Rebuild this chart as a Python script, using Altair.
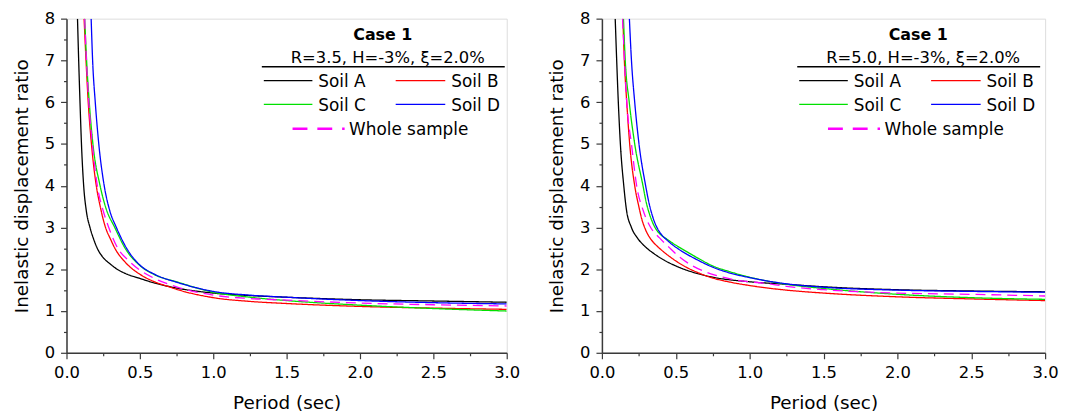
import altair as alt
import pandas as pd

SERIES = ["Soil A", "Soil B", "Soil C", "Soil D", "Whole sample"]
COLORS = ["#000000", "#ff0000", "#00e000", "#0000ff", "#ff00ff"]
X_TICKS = [i * 0.25 for i in range(13)]
Y_TICKS = [i * 0.5 for i in range(17)]

# ---------------- Left panel: R=3.5 ----------------
L_A_T = [0.075, 0.083, 0.092, 0.102, 0.117, 0.135, 0.16, 0.185, 0.21, 0.25, 0.3, 0.345, 0.4, 0.5, 0.6, 0.75, 1.0, 1.25, 1.5, 2.0, 2.5, 3.0]
L_A_V = [8.0, 7.0, 6.0, 5.0, 4.0, 3.4, 3.0, 2.72, 2.5, 2.28, 2.12, 2.0, 1.9, 1.78, 1.67, 1.55, 1.43, 1.37, 1.33, 1.27, 1.24, 1.21]
L_B_T = [0.12, 0.133, 0.148, 0.17, 0.203, 0.23, 0.266, 0.3, 0.33, 0.4, 0.5, 0.6, 0.69, 0.75, 1.0, 1.25, 1.5, 2.0, 2.5, 3.0]
L_B_V = [8.0, 7.0, 6.0, 5.0, 4.0, 3.5, 3.0, 2.72, 2.5, 2.17, 1.88, 1.7, 1.59, 1.52, 1.32, 1.23, 1.18, 1.11, 1.07, 1.04]
L_C_T = [0.124, 0.137, 0.155, 0.18, 0.229, 0.27, 0.329, 0.4, 0.5, 0.6, 0.75, 1.0, 1.25, 1.5, 2.0, 2.5, 3.0]
L_C_V = [8.0, 7.0, 6.0, 5.0, 4.0, 3.45, 3.0, 2.5, 2.09, 1.87, 1.7, 1.45, 1.33, 1.25, 1.14, 1.06, 1.0]
L_D_T = [0.168, 0.178, 0.196, 0.22, 0.257, 0.295, 0.34, 0.41, 0.5, 0.6, 0.75, 0.87, 1.0, 1.25, 1.5, 2.0, 2.5, 3.0]
L_D_V = [8.0, 7.0, 6.0, 5.0, 4.0, 3.4, 3.0, 2.5, 2.1, 1.88, 1.69, 1.57, 1.47, 1.38, 1.33, 1.25, 1.2, 1.17]
L_W_T = [0.124, 0.136, 0.152, 0.176, 0.21, 0.25, 0.288, 0.35, 0.42, 0.5, 0.6, 0.75, 1.0, 1.25, 1.5, 2.0, 2.5, 3.0]
L_W_V = [8.0, 7.0, 6.0, 5.0, 4.0, 3.4, 3.0, 2.5, 2.22, 1.98, 1.78, 1.58, 1.38, 1.30, 1.26, 1.19, 1.15, 1.12]

# ---------------- Right panel: R=5.0 ----------------
R_A_T = [0.09, 0.1, 0.111, 0.125, 0.148, 0.165, 0.2, 0.24, 0.29, 0.35, 0.42, 0.5, 0.643, 0.75, 1.0, 1.25, 1.5, 2.0, 2.5, 3.0]
R_A_V = [8.0, 7.0, 6.0, 5.0, 4.0, 3.45, 3.0, 2.75, 2.55, 2.38, 2.22, 2.08, 1.9, 1.81, 1.7, 1.64, 1.58, 1.51, 1.48, 1.46]
R_B_T = [0.142, 0.152, 0.168, 0.188, 0.222, 0.25, 0.27, 0.295, 0.325, 0.36, 0.4, 0.46, 0.5, 0.57, 0.643, 0.75, 0.87, 1.0, 1.25, 1.5, 2.0, 2.5, 3.0]
R_B_V = [8.0, 7.0, 6.0, 5.0, 4.0, 3.5, 3.2, 2.95, 2.75, 2.6, 2.47, 2.3, 2.2, 2.05, 1.93, 1.79, 1.69, 1.61, 1.5, 1.43, 1.34, 1.29, 1.25]
R_C_T = [0.146, 0.158, 0.185, 0.222, 0.278, 0.3, 0.324, 0.348, 0.372, 0.4, 0.44, 0.49, 0.56, 0.643, 0.75, 0.867, 1.0, 1.25, 1.5, 2.0, 2.5, 3.0]
R_C_V = [8.0, 7.0, 6.0, 5.0, 4.0, 3.6, 3.3, 3.08, 2.93, 2.82, 2.72, 2.6, 2.45, 2.28, 2.08, 1.94, 1.81, 1.64, 1.54, 1.40, 1.32, 1.28]
R_D_T = [0.186, 0.2, 0.222, 0.251, 0.296, 0.318, 0.34, 0.362, 0.385, 0.41, 0.44, 0.48, 0.52, 0.643, 0.75, 0.867, 1.0, 1.25, 1.5, 2.0, 2.5, 3.0]
R_D_V = [8.0, 7.0, 6.0, 5.0, 4.0, 3.6, 3.3, 3.08, 2.92, 2.8, 2.7, 2.58, 2.48, 2.23, 2.05, 1.91, 1.8, 1.65, 1.57, 1.5, 1.47, 1.45]
R_W_T = [0.14, 0.153, 0.168, 0.2, 0.235, 0.28, 0.33, 0.39, 0.453, 0.53, 0.609, 0.766, 0.912, 1.11, 1.25, 1.5, 2.0, 2.5, 3.0]
R_W_V = [8.0, 7.0, 6.0, 5.0, 4.0, 3.4, 3.0, 2.75, 2.53, 2.28, 2.09, 1.86, 1.74, 1.66, 1.59, 1.51, 1.43, 1.40, 1.36]

LEFT = [(L_A_T, L_A_V), (L_B_T, L_B_V), (L_C_T, L_C_V), (L_D_T, L_D_V), (L_W_T, L_W_V)]
RIGHT = [(R_A_T, R_A_V), (R_B_T, R_B_V), (R_C_T, R_C_V), (R_D_T, R_D_V), (R_W_T, R_W_V)]

FONT = "DejaVu Sans"
AX = "#3a3a3a"
H = 337
DASH = [10, 6]


def long_frame(curves):
    rows = []
    for k, (ts, vs) in enumerate(curves):
        for i, (t, v) in enumerate(zip(ts, vs)):
            rows.append({"T": t, "v": v, "series": SERIES[k], "k": k, "i": i})
    return pd.DataFrame(rows)


def x_axis():
    return alt.Axis(
        values=X_TICKS, title="Period (sec)", grid=False,
        labelExpr="datum.value % 0.5 == 0 ? format(datum.value, '.1f') : ''",
        tickSize={"condition": {"test": "datum.value % 0.5 == 0", "value": 6}, "value": 3},
        labelFlush=False, labelOverlap=False,
        labelFontSize=16.5, titleFontSize=18.5, titleFontWeight="normal",
        labelPadding=6, titlePadding=13, labelColor="black", titleColor="black",
        domainColor=AX, tickColor=AX, domainWidth=1.5, tickWidth=1.2,
        labelFont=FONT, titleFont=FONT,
    )


def y_axis():
    return alt.Axis(
        values=Y_TICKS, title="Inelastic displacement ratio", grid=False,
        labelExpr="datum.value % 1 == 0 ? format(datum.value, 'd') : ''",
        tickSize={"condition": {"test": "datum.value % 1 == 0", "value": 6}, "value": 3},
        labelOverlap=False, labelFlush=False,
        labelFontSize=16.5, titleFontSize=18.5, titleFontWeight="normal",
        labelPadding=6, titlePadding=13, labelColor="black", titleColor="black",
        domainColor=AX, tickColor=AX, domainWidth=1.5, tickWidth=1.2,
        labelFont=FONT, titleFont=FONT,
    )


one = pd.DataFrame({"k": [0]})


def legend_layers(param_text):
    layers = [
        alt.Chart(one).mark_text(font=FONT, fontSize=16, fontWeight="bold", align="center",
                                 baseline="alphabetic", color="black")
        .encode(x=alt.value(319), y=alt.value(22), text=alt.value("Case 1")),
        alt.Chart(one).mark_text(font=FONT, fontSize=16.5, align="center",
                                 baseline="alphabetic", color="black")
        .encode(x=alt.value(324), y=alt.value(45), text=alt.value(param_text)),
        alt.Chart(one).mark_rule(color="black", strokeWidth=1.5)
        .encode(x=alt.value(197), x2=alt.value(442), y=alt.value(48.5)),
    ]
    slots = [(199, 248, 254, 62.5), (332, 382, 388, 62.5),
             (199, 248, 254, 86.5), (332, 382, 388, 86.5),
             (228, 280.5, 285, 111)]
    for k, (x1, x2, xt, y) in enumerate(slots):
        dashed = SERIES[k] == "Whole sample"
        layers.append(
            alt.Chart(one).mark_rule(color=COLORS[k], strokeWidth=2.6 if dashed else 1.3,
                                     strokeDash=[15, 10] if dashed else [1, 0])
            .encode(x=alt.value(x1), x2=alt.value(x2), y=alt.value(y))
        )
        layers.append(
            alt.Chart(one).mark_text(font=FONT, fontSize=17, align="left",
                                     baseline="alphabetic", color="black")
            .encode(x=alt.value(xt), y=alt.value(y + 6.5), text=alt.value(SERIES[k]))
        )
    return layers


def panel(curves, param_text, width):
    df = long_frame(curves)
    lines = alt.Chart(df).mark_line(interpolate="monotone", clip=True).encode(
        x=alt.X("T:Q", scale=alt.Scale(domain=[0, 3], nice=False, zero=False), axis=x_axis()),
        y=alt.Y("v:Q", scale=alt.Scale(domain=[0, 8], nice=False), axis=y_axis()),
        color=alt.Color("series:N", scale=alt.Scale(domain=SERIES, range=COLORS), legend=None),
        strokeDash=alt.StrokeDash("series:N", scale=alt.Scale(domain=SERIES, range=[[1, 0]] * 4 + [DASH]), legend=None),
        strokeWidth=alt.StrokeWidth("series:N", scale=alt.Scale(domain=SERIES, range=[1.3, 1.3, 1.3, 1.3, 2.6]), legend=None),
        order=alt.Order("i:Q"),
        detail="k:N",
    )
    return alt.layer(lines, *legend_layers(param_text)).properties(width=width, height=H)


left = panel(LEFT, "R=3.5, H=-3%, ξ=2.0%", 444)
right = panel(RIGHT, "R=5.0, H=-3%, ξ=2.0%", 447)

chart = alt.hconcat(left, right, spacing=27).properties(
    padding={"left": 4, "top": 0, "right": 0, "bottom": 0}
).configure_view(stroke=AX, strokeWidth=1.5).configure(background="white")

chart.save("out.html", embed_options={"renderer": "svg", "actions": False})
